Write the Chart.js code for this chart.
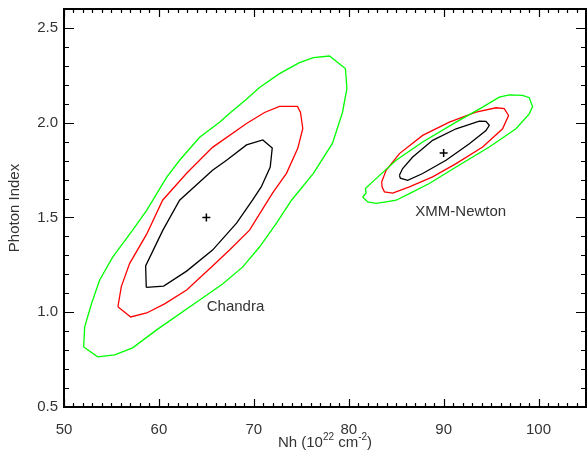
<!DOCTYPE html>
<html>
<head>
<meta charset="utf-8">
<script src="https://cdn.jsdelivr.net/npm/chart.js@4/dist/chart.umd.min.js"></script>
<style>
  body { margin: 0; background: #fff; }
  canvas { display: block; }
</style>
</head>
<body>
<canvas id="contourChart" width="587" height="462"></canvas>
<script>
// Confidence contours, [Nh, photon index] pairs
const chandraOuter = [
    [52.07, 0.817], [52.18, 0.923], [52.92, 1.049], [53.76, 1.170], [55.13, 1.291],
    [57.23, 1.433], [58.71, 1.538], [60.81, 1.712], [62.18, 1.802], [64.29, 1.923],
    [66.39, 2.002], [67.55, 2.054], [69.13, 2.120], [70.60, 2.186], [72.71, 2.259],
    [74.81, 2.317], [76.28, 2.344], [77.97, 2.352], [79.65, 2.286], [79.81, 2.181],
    [79.34, 2.054], [78.28, 1.891], [76.28, 1.733], [73.97, 1.591], [72.39, 1.470],
    [70.60, 1.344], [68.81, 1.238], [66.71, 1.149], [64.29, 1.065], [59.76, 0.907],
    [57.23, 0.812], [55.34, 0.775], [53.55, 0.765]
];
const chandraMid = [
    [55.68, 1.029], [56.04, 1.135], [56.92, 1.258], [58.71, 1.412], [60.39, 1.591],
    [62.92, 1.733], [65.65, 1.870], [69.23, 1.996], [71.13, 2.054], [72.71, 2.086],
    [74.60, 2.086], [74.92, 2.054], [75.16, 1.970], [74.63, 1.865], [73.44, 1.733],
    [71.97, 1.628], [70.92, 1.544], [69.55, 1.433], [67.44, 1.328], [65.65, 1.244],
    [62.92, 1.117], [60.60, 1.044], [58.71, 0.996], [57.02, 0.975]
];
const chandraInner = [
    [58.67, 1.131], [58.60, 1.244], [60.42, 1.433], [62.18, 1.591], [65.65, 1.749],
    [67.13, 1.802], [69.23, 1.883], [70.95, 1.909], [71.94, 1.866], [71.73, 1.766],
    [70.78, 1.661], [69.86, 1.591], [68.18, 1.470], [65.65, 1.328], [62.92, 1.217],
    [60.50, 1.138]
];
const xmmOuter = [
    [81.47, 1.608], [81.83, 1.629], [81.76, 1.653], [82.88, 1.705], [84.99, 1.802],
    [87.79, 1.898], [91.31, 2.003], [94.11, 2.082], [95.86, 2.135], [96.92, 2.147],
    [98.32, 2.144], [99.02, 2.132], [99.37, 2.086], [99.02, 2.047], [97.62, 1.968],
    [94.81, 1.872], [91.31, 1.766], [88.49, 1.679], [86.39, 1.626], [84.99, 1.591],
    [83.94, 1.582], [82.88, 1.574], [82.00, 1.582]
];
const xmmMid = [
    [83.47, 1.687], [83.52, 1.661], [83.76, 1.635], [84.63, 1.629], [86.39, 1.661],
    [88.84, 1.714], [91.31, 1.784], [94.11, 1.872], [96.21, 1.968], [96.84, 2.038],
    [96.39, 2.074], [95.52, 2.079], [93.41, 2.056], [90.60, 2.003], [87.79, 1.933],
    [85.34, 1.837], [83.94, 1.749]
];
const xmmInner = [
    [85.34, 1.723], [85.68, 1.758], [86.74, 1.819], [88.84, 1.907], [91.31, 1.968],
    [93.76, 2.008], [94.46, 2.007], [94.81, 1.986], [94.46, 1.959], [92.71, 1.889],
    [90.25, 1.802], [87.79, 1.732], [86.21, 1.696], [85.44, 1.707]
];

// Best-fit points
const bestFits = [[65.0, 1.50], [90.0, 1.84]];

// Text labels in data coordinates
const labelTexts = ['Chandra', 'XMM-Newton'];
const labelPos = [[65.04, 1.03], [87.02, 1.53]];

// Axis ranges and ticks
const xRange = [50, 105];
const yRange = [0.5, 2.6];
const xTicks = [50, 60, 70, 80, 90, 100];
const yTicks = [0.5, 1.0, 1.5, 2.0, 2.5];
const xMinorStep = 1;
const yMinorStep = 0.1;

const FONT = '"Liberation Sans", Arial, Helvetica, sans-serif';
const TEXT = '#333333';

function closed(pts) {
    const out = pts.map(p => ({ x: p[0], y: p[1] }));
    out.push({ x: pts[0][0], y: pts[0][1] });
    return out;
}

function contour(pts, color) {
    return {
        data: closed(pts),
        showLine: true,
        borderColor: color,
        borderWidth: 1.3,
        pointRadius: 0,
        tension: 0,
        fill: false
    };
}

// no extra room for overflowing tick labels
function noPad(s) {
    s.paddingTop = 0;
    s.paddingBottom = 0;
    s.paddingLeft = 0;
    s.paddingRight = 0;
}

// Frame with inward ticks on all four sides, in-plot labels and x title
const framePlugin = {
    id: 'frame',
    afterDatasetsDraw(chart) {
        const ctx = chart.ctx;
        const a = chart.chartArea;
        const xs = chart.scales.x;
        const ys = chart.scales.y;
        ctx.save();
        ctx.strokeStyle = '#000';
        ctx.lineWidth = 2;
        ctx.strokeRect(a.left, a.top, a.right - a.left, a.bottom - a.top);

        ctx.lineWidth = 1.2;
        ctx.beginPath();
        // x ticks (bottom & top)
        for (let v = xRange[0]; v <= xRange[1] + 1e-6; v += xMinorStep) {
            const px = Math.round(xs.getPixelForValue(v)) + 0.5;
            const major = xTicks.some(t => Math.abs(t - v) < 1e-6);
            const len = major ? 8 : 4;
            ctx.moveTo(px, a.bottom); ctx.lineTo(px, a.bottom - len);
            ctx.moveTo(px, a.top); ctx.lineTo(px, a.top + len);
        }
        // y ticks (left & right)
        for (let v = yRange[0]; v <= yRange[1] + 1e-6; v += yMinorStep) {
            const py = Math.round(ys.getPixelForValue(v)) + 0.5;
            const major = yTicks.some(t => Math.abs(t - v) < 1e-6);
            const len = major ? 10 : 5;
            ctx.moveTo(a.left, py); ctx.lineTo(a.left + len, py);
            ctx.moveTo(a.right, py); ctx.lineTo(a.right - len, py);
        }
        ctx.stroke();

        // labels inside the plot
        ctx.fillStyle = TEXT;
        ctx.font = '15px ' + FONT;
        ctx.textAlign = 'left';
        ctx.textBaseline = 'middle';
        labelTexts.forEach((t, i) => {
            ctx.fillText(t, xs.getPixelForValue(labelPos[i][0]), ys.getPixelForValue(labelPos[i][1]));
        });

        // x axis title with superscripts
        const parts = [
            ['Nh (10', false], ['22', true], [' cm', false], ['-2', true], [')', false]
        ];
        const big = '15px ' + FONT, small = '10px ' + FONT;
        let w = 0;
        parts.forEach(p => { ctx.font = p[1] ? small : big; w += ctx.measureText(p[0]).width; });
        let x = (a.left + a.right) / 2 - w / 2;
        const base = 447;
        ctx.textBaseline = 'alphabetic';
        parts.forEach(p => {
            ctx.font = p[1] ? small : big;
            ctx.fillText(p[0], x, p[1] ? base - 7 : base);
            x += ctx.measureText(p[0]).width;
        });
        ctx.restore();
    }
};

new Chart(document.getElementById('contourChart'), {
    type: 'scatter',
    data: {
        datasets: [
            contour(chandraOuter, '#00ff00'),
            contour(chandraMid, '#ff0000'),
            contour(chandraInner, '#000000'),
            contour(xmmOuter, '#00ff00'),
            contour(xmmMid, '#ff0000'),
            contour(xmmInner, '#000000'),
            {
                data: bestFits.map(p => ({ x: p[0], y: p[1] })),
                pointStyle: 'cross',
                pointRadius: 4,
                borderColor: '#000',
                borderWidth: 1.5,
                showLine: false
            }
        ]
    },
    options: {
        responsive: false,
        animation: false,
        layout: { autoPadding: false, padding: { top: 9, right: 1, left: 0, bottom: 0 } },
        plugins: { legend: { display: false }, tooltip: { enabled: false } },
        scales: {
            x: {
                type: 'linear',
                min: xRange[0],
                max: xRange[1],
                grid: { display: false, drawTicks: false },
                border: { display: false },
                afterBuildTicks: s => { s.ticks = xTicks.map(v => ({ value: v })); },
                afterFit: s => { s.height = 55; noPad(s); },
                ticks: {
                    color: TEXT,
                    font: { family: FONT, size: 15 },
                    padding: 14,
                    maxRotation: 0,
                    callback: v => String(v)
                }
            },
            y: {
                type: 'linear',
                min: yRange[0],
                max: yRange[1],
                grid: { display: false, drawTicks: false },
                border: { display: false },
                afterBuildTicks: s => { s.ticks = yTicks.map(v => ({ value: v })); },
                afterFit: s => { s.width = 64; noPad(s); },
                ticks: {
                    color: TEXT,
                    font: { family: FONT, size: 15 },
                    padding: 6,
                    callback: v => Number(v).toFixed(1)
                },
                title: {
                    display: true,
                    text: 'Photon Index',
                    color: TEXT,
                    font: { family: FONT, size: 15 },
                    padding: { top: 6, bottom: 0 }
                }
            }
        }
    },
    plugins: [framePlugin]
});
</script>
</body>
</html>
